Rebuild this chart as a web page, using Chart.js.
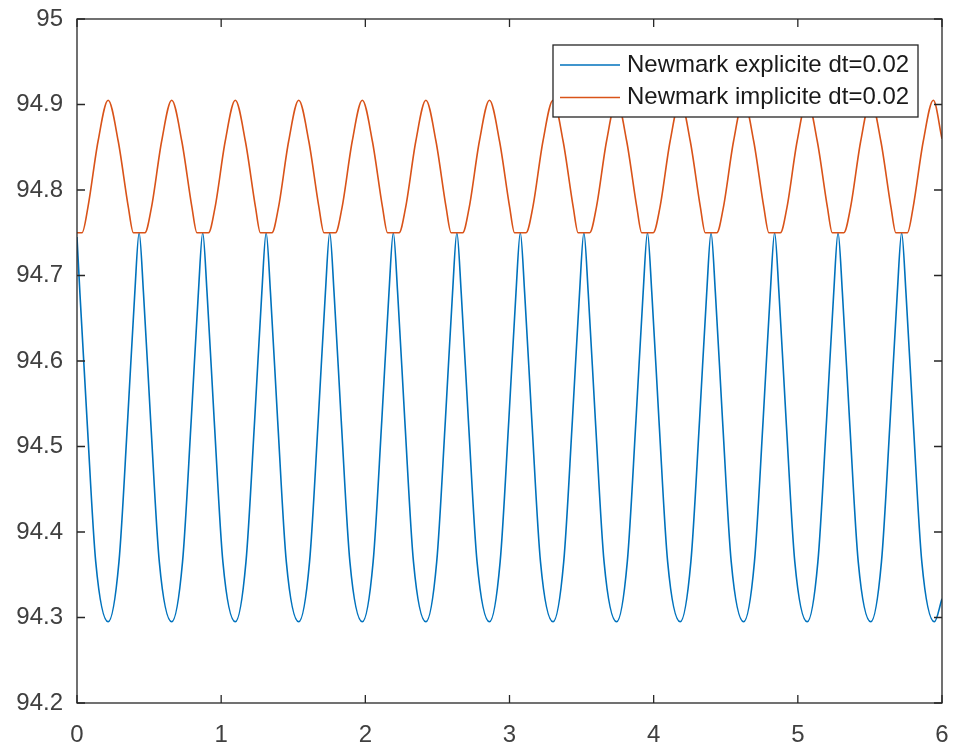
<!DOCTYPE html>
<html lang="en">
<head>
<meta charset="UTF-8">
<title>Newmark</title>
<script src="https://cdn.jsdelivr.net/npm/chart.js@4.4.1/dist/chart.umd.min.js"></script>
<style>
  html, body { margin: 0; padding: 0; background: #fff; }
  #wrap { width: 953px; height: 745px; }
</style>
</head>
<body>
<div id="wrap"><canvas id="chart" width="953" height="745"></canvas></div>
<script>
// values (time, displacement)
const labels = ['Newmark explicite dt=0.02', 'Newmark implicite dt=0.02'];

const expT = [0, 0.020, 0.070, 0.130, 0.216,
  0.291, 0.351, 0.401, 0.431, 0.461, 0.511, 0.571, 0.657,
  0.732, 0.792, 0.842, 0.872, 0.902, 0.952, 1.012, 1.098,
  1.172, 1.232, 1.282, 1.312, 1.342, 1.392, 1.452, 1.538,
  1.613, 1.673, 1.723, 1.753, 1.783, 1.833, 1.893, 1.979,
  2.054, 2.114, 2.164, 2.194, 2.224, 2.274, 2.334, 2.420,
  2.495, 2.555, 2.605, 2.635, 2.665, 2.715, 2.775, 2.861,
  2.935, 2.995, 3.045, 3.075, 3.105, 3.155, 3.215, 3.302,
  3.376, 3.436, 3.486, 3.516, 3.546, 3.596, 3.656, 3.743,
  3.817, 3.877, 3.927, 3.957, 3.987, 4.037, 4.097, 4.184,
  4.258, 4.318, 4.368, 4.398, 4.428, 4.478, 4.538, 4.624,
  4.699, 4.759, 4.809, 4.839, 4.869, 4.919, 4.979, 5.065,
  5.139, 5.199, 5.249, 5.279, 5.309, 5.359, 5.419, 5.506,
  5.580, 5.640, 5.690, 5.720, 5.750, 5.800, 5.860, 5.947,
  6.000];
const expY = [94.745, 94.680, 94.530, 94.365, 94.295,
  94.365, 94.530, 94.680, 94.750, 94.680, 94.530, 94.365, 94.295,
  94.365, 94.530, 94.680, 94.750, 94.680, 94.530, 94.365, 94.295,
  94.365, 94.530, 94.680, 94.750, 94.680, 94.530, 94.365, 94.295,
  94.365, 94.530, 94.680, 94.750, 94.680, 94.530, 94.365, 94.295,
  94.365, 94.530, 94.680, 94.750, 94.680, 94.530, 94.365, 94.295,
  94.365, 94.530, 94.680, 94.750, 94.680, 94.530, 94.365, 94.295,
  94.365, 94.530, 94.680, 94.750, 94.680, 94.530, 94.365, 94.295,
  94.365, 94.530, 94.680, 94.750, 94.680, 94.530, 94.365, 94.295,
  94.365, 94.530, 94.680, 94.750, 94.680, 94.530, 94.365, 94.295,
  94.365, 94.530, 94.680, 94.750, 94.680, 94.530, 94.365, 94.295,
  94.365, 94.530, 94.680, 94.750, 94.680, 94.530, 94.365, 94.295,
  94.365, 94.530, 94.680, 94.750, 94.680, 94.530, 94.365, 94.295,
  94.365, 94.530, 94.680, 94.750, 94.680, 94.530, 94.365, 94.295,
  94.322];

const impT = [0, 0.035, 0.076, 0.146, 0.216, 0.286, 0.356, 0.391, 0.471,
  0.517, 0.587, 0.657, 0.727, 0.797, 0.832, 0.912,
  0.958, 1.028, 1.098, 1.168, 1.238, 1.272, 1.352,
  1.398, 1.468, 1.538, 1.608, 1.678, 1.713, 1.793,
  1.839, 1.909, 1.979, 2.049, 2.119, 2.154, 2.234,
  2.280, 2.350, 2.420, 2.490, 2.560, 2.595, 2.675,
  2.721, 2.791, 2.861, 2.931, 3.001, 3.035, 3.115,
  3.162, 3.232, 3.302, 3.372, 3.442, 3.476, 3.556,
  3.603, 3.673, 3.743, 3.813, 3.883, 3.917, 3.997,
  4.044, 4.114, 4.184, 4.254, 4.324, 4.358, 4.438,
  4.484, 4.554, 4.624, 4.694, 4.764, 4.799, 4.879,
  4.925, 4.995, 5.065, 5.135, 5.205, 5.239, 5.319,
  5.366, 5.436, 5.506, 5.576, 5.646, 5.680, 5.760,
  5.800, 5.870, 5.940, 6.000];
const impY = [94.750, 94.750,
  94.780, 94.857, 94.905, 94.857, 94.780, 94.750, 94.750,
  94.780, 94.857, 94.905, 94.857, 94.780, 94.750, 94.750,
  94.780, 94.857, 94.905, 94.857, 94.780, 94.750, 94.750,
  94.780, 94.857, 94.905, 94.857, 94.780, 94.750, 94.750,
  94.780, 94.857, 94.905, 94.857, 94.780, 94.750, 94.750,
  94.780, 94.857, 94.905, 94.857, 94.780, 94.750, 94.750,
  94.780, 94.857, 94.905, 94.857, 94.780, 94.750, 94.750,
  94.780, 94.857, 94.905, 94.857, 94.780, 94.750, 94.750,
  94.780, 94.857, 94.905, 94.857, 94.780, 94.750, 94.750,
  94.780, 94.857, 94.905, 94.857, 94.780, 94.750, 94.750,
  94.780, 94.857, 94.905, 94.857, 94.780, 94.750, 94.750,
  94.780, 94.857, 94.905, 94.857, 94.780, 94.750, 94.750,
  94.780, 94.857, 94.905, 94.857, 94.780, 94.750, 94.750,
  94.780, 94.857, 94.905, 94.860];

const xTicks = [0, 1, 2, 3, 4, 5, 6];
const yTicks = [94.2, 94.3, 94.4, 94.5, 94.6, 94.7, 94.8, 94.9, 95];

const colors = ['#0072BD', '#D95319'];
const axisColor = '#262626';
const textColor = '#404040';
const fontFamily = '"Liberation Sans", Arial, Helvetica, sans-serif';

// box around the axes, inward ticks on all four sides, and the legend box
const matlabAxes = {
  id: 'matlabAxes',
  afterDraw(chart) {
    const { ctx, chartArea: a, scales } = chart;
    const tl = 8;
    ctx.save();
    ctx.strokeStyle = axisColor;
    ctx.lineWidth = 1.3;
    ctx.strokeRect(a.left, a.top, a.right - a.left, a.bottom - a.top);
    ctx.beginPath();
    scales.x.ticks.forEach(t => {
      const px = scales.x.getPixelForValue(t.value);
      ctx.moveTo(px, a.bottom); ctx.lineTo(px, a.bottom - tl);
      ctx.moveTo(px, a.top); ctx.lineTo(px, a.top + tl);
    });
    scales.y.ticks.forEach(t => {
      const py = scales.y.getPixelForValue(t.value);
      ctx.moveTo(a.left, py); ctx.lineTo(a.left + tl, py);
      ctx.moveTo(a.right, py); ctx.lineTo(a.right - tl, py);
    });
    ctx.stroke();

    // legend
    const lx = 553, ly = 45, lw = 365, lh = 72;
    ctx.fillStyle = '#fff';
    ctx.fillRect(lx, ly, lw, lh);
    ctx.lineWidth = 1.3;
    ctx.strokeStyle = axisColor;
    ctx.strokeRect(lx, ly, lw, lh);
    ctx.font = '24px ' + fontFamily;
    ctx.textBaseline = 'middle';
    ctx.textAlign = 'left';
    chart.data.datasets.forEach((ds, i) => {
      const yy = ly + 20 + i * 32.5;
      ctx.strokeStyle = ds.borderColor;
      ctx.lineWidth = 1.6;
      ctx.beginPath();
      ctx.moveTo(lx + 7, yy); ctx.lineTo(lx + 67, yy);
      ctx.stroke();
      ctx.fillStyle = '#1a1a1a';
      ctx.fillText(ds.label, lx + 74, yy);
    });
    ctx.restore();
  }
};

new Chart(document.getElementById('chart'), {
  type: 'line',
  data: {
    datasets: [{
      label: labels[0],
      data: expT.map((t, i) => ({ x: t, y: expY[i] })),
      borderColor: colors[0],
      borderWidth: 1.6,
      pointRadius: 0,
      fill: false,
      cubicInterpolationMode: 'monotone',
      order: 1
    }, {
      label: labels[1],
      data: impT.map((t, i) => ({ x: t, y: impY[i] })),
      borderColor: colors[1],
      borderWidth: 1.6,
      pointRadius: 0,
      fill: false,
      cubicInterpolationMode: 'monotone',
      order: 0
    }]
  },
  options: {
    responsive: false,
    animation: false,
    layout: { padding: { top: 19, right: 11, left: 0, bottom: 0 } },
    plugins: { legend: { display: false }, tooltip: { enabled: false } },
    scales: {
      x: {
        type: 'linear',
        min: xTicks[0],
        max: xTicks[xTicks.length - 1],
        afterBuildTicks: s => { s.ticks = xTicks.map(v => ({ value: v })); },
        afterFit: s => { s.height = 42; s.paddingLeft = 0; s.paddingRight = 0; },
        grid: { display: false, drawTicks: false },
        border: { display: false },
        ticks: {
          padding: 18,
          maxRotation: 0,
          color: textColor,
          font: { family: fontFamily, size: 24 },
          callback: v => String(v)
        }
      },
      y: {
        type: 'linear',
        min: yTicks[0],
        max: yTicks[yTicks.length - 1],
        afterBuildTicks: s => { s.ticks = yTicks.map(v => ({ value: v })); },
        afterFit: s => { s.width = 77; s.paddingTop = 0; s.paddingBottom = 0; },
        grid: { display: false, drawTicks: false },
        border: { display: false },
        ticks: {
          padding: 14,
          color: textColor,
          font: { family: fontFamily, size: 24 },
          callback: v => String(Number(v.toFixed(1)))
        }
      }
    }
  },
  plugins: [matlabAxes]
});
</script>
</body>
</html>
